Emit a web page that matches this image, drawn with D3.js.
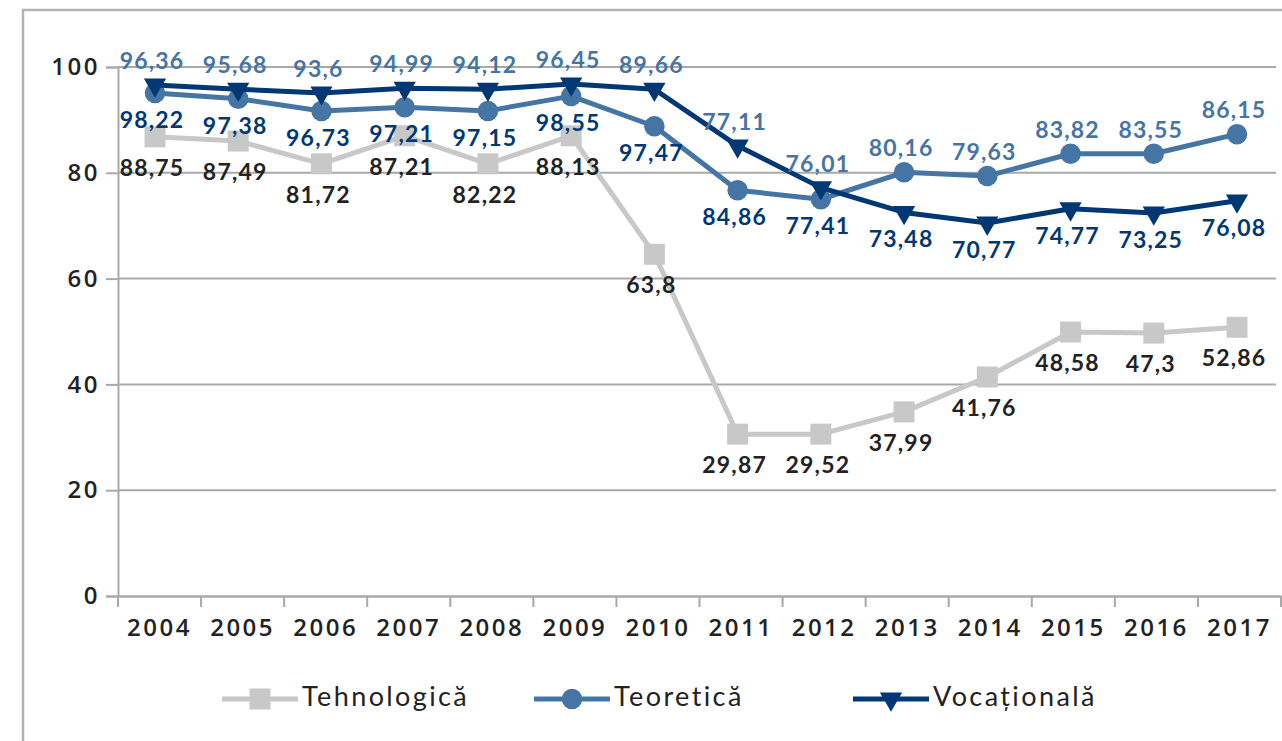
<!DOCTYPE html>
<html>
<head>
<meta charset="utf-8">
<script src="https://cdn.jsdelivr.net/npm/d3@7"></script>
<style>
  body { margin: 0; background: #fff; }
  svg { display: block; font-family: Lato, "Open Sans", sans-serif; }
</style>
</head>
<body>
<div id="chart"></div>
<script>
// data
var years = ["2004","2005","2006","2007","2008","2009","2010","2011","2012","2013","2014","2015","2016","2017"];
var yTicks = [0, 20, 40, 60, 80, 100];

var tehnValues = [86.8, 86.0, 81.7, 87.0, 81.7, 87.0, 64.6, 30.6, 30.6, 34.8, 41.4, 49.9, 49.7, 50.8];
var teorValues = [95.1, 94.0, 91.7, 92.4, 91.7, 94.5, 88.8, 76.7, 75.0, 80.1, 79.4, 83.6, 83.6, 87.3];
var vocValues  = [96.6, 95.8, 95.1, 96.0, 95.8, 96.8, 95.8, 85.1, 77.2, 72.5, 70.5, 73.2, 72.4, 74.7];

var tehnLabels = ["88,75","87,49","81,72","87,21","82,22","88,13","63,8","29,87","29,52","37,99","41,76","48,58","47,3","52,86"];
var teorLabels = ["96,36","95,68","93,6","94,99","94,12","96,45","89,66","77,11","76,01","80,16","79,63","83,82","83,55","86,15"];
var vocLabels  = ["98,22","97,38","96,73","97,21","97,15","98,55","97,47","84,86","77,41","73,48","70,77","74,77","73,25","76,08"];

var seriesNames = ["Tehnologică", "Teoretică", "Vocațională"];

var colTehn = "#c8c8c8", colTeor = "#4575a5", colVoc = "#003876";
var gridCol = "#a9a9a9";

var W = 1282, H = 741;
var svg = d3.select("#chart").append("svg")
  .attr("width", W).attr("height", H);

// outer frame (only top and left are visible in the crop)
svg.append("path")
  .attr("d", "M23,741 L23,10 L1282,10")
  .attr("fill", "none").attr("stroke", "#b3b3b3").attr("stroke-width", 2.5);

// scales
var x = d3.scaleBand().domain(years).range([118, 1281]);
var xp = d3.scalePoint().domain(years).range([155, 1237]);
var y = d3.scaleLinear().domain([0, 100]).range([596, 67]);

// gridlines
svg.append("g").selectAll("line")
  .data(yTicks.filter(function(d){ return d > 0; }))
  .enter().append("line")
    .attr("x1", 118).attr("x2", 1276)
    .attr("y1", function(d){ return y(d); })
    .attr("y2", function(d){ return y(d); })
    .attr("stroke", gridCol).attr("stroke-width", 2);

// y axis
var yAxis = svg.append("g")
  .attr("transform", "translate(118,0)")
  .call(d3.axisLeft(y).tickValues(yTicks).tickSize(12).tickPadding(6));
yAxis.select(".domain").attr("stroke", gridCol).attr("stroke-width", 2);
yAxis.selectAll(".tick line").attr("stroke", gridCol).attr("stroke-width", 2);
yAxis.selectAll(".tick text")
  .attr("fill", "#222").style("font-family", "'Open Sans', Lato, sans-serif")
  .style("font-size", "24px").style("font-weight", 600)
  .style("letter-spacing", "2.5px");

// x axis: labels centred in bands, ticks on band edges
var xAxis = svg.append("g")
  .attr("transform", "translate(0,596)")
  .call(d3.axisBottom(x).tickSize(0).tickPadding(23).tickSizeOuter(0));
xAxis.select(".domain").attr("stroke", gridCol).attr("stroke-width", 2.5);
xAxis.selectAll(".tick text")
  .attr("fill", "#222").style("font-family", "'Open Sans', Lato, sans-serif")
  .style("font-size", "24px").style("font-weight", 600)
  .style("letter-spacing", "2.5px");
xAxis.selectAll(".edge")
  .data(years.concat(["end"]))
  .enter().append("line")
    .attr("class", "edge")
    .attr("x1", function(d, i){ return x.range()[0] + i * x.step(); })
    .attr("x2", function(d, i){ return x.range()[0] + i * x.step(); })
    .attr("y1", 0).attr("y2", 11)
    .attr("stroke", gridCol).attr("stroke-width", 2);

function pts(vals) {
  return vals.map(function(v, i){ return { year: years[i], v: v }; });
}
var line = d3.line()
  .x(function(d){ return xp(d.year); })
  .y(function(d){ return y(d.v); });

var sqSym = d3.symbol().type(d3.symbolSquare).size(441);
var ciSym = d3.symbol().type(d3.symbolCircle).size(330);
var trSym = d3.symbol().type(d3.symbolTriangle).size(215);

function drawSeries(vals, col, sym, rot) {
  var g = svg.append("g");
  g.append("path")
    .datum(pts(vals))
    .attr("d", line)
    .attr("fill", "none").attr("stroke", col).attr("stroke-width", 5)
    .attr("stroke-linejoin", "round");
  g.selectAll("path.mk")
    .data(pts(vals))
    .enter().append("path")
      .attr("class", "mk")
      .attr("d", sym)
      .attr("fill", col)
      .attr("transform", function(d){
        return "translate(" + xp(d.year) + "," + y(d.v) + ")" + (rot ? " rotate(180)" : "");
      });
}
drawSeries(tehnValues, colTehn, sqSym, false);
drawSeries(teorValues, colTeor, ciSym, false);
drawSeries(vocValues, colVoc, trSym, true);

// data labels
var lab = svg.append("g")
  .style("font-size", "23px").style("font-weight", 700)
  .style("letter-spacing", "1.2px")
  .attr("text-anchor", "middle");

lab.selectAll("text.tehn")
  .data(tehnLabels).enter().append("text")
    .attr("class", "tehn")
    .attr("x", function(d, i){ return xp(years[i]) - 3; })
    .attr("y", function(d, i){ return y(tehnValues[i]) + 31 + 8; })
    .attr("fill", "#222")
    .text(function(d){ return d; });

lab.selectAll("text.teor")
  .data(teorLabels).enter().append("text")
    .attr("class", "teor")
    .attr("x", function(d, i){ return xp(years[i]) - 3; })
    .attr("y", function(d, i){
      return Math.min(y(teorValues[i]), y(vocValues[i])) - 24 + 8;
    })
    .attr("fill", colTeor)
    .text(function(d){ return d; });

lab.selectAll("text.voc")
  .data(vocLabels).enter().append("text")
    .attr("class", "voc")
    .attr("x", function(d, i){ return xp(years[i]) - 3; })
    .attr("y", function(d, i){
      return Math.max(y(teorValues[i]), y(vocValues[i])) + 27 + 8;
    })
    .attr("fill", colVoc)
    .text(function(d){ return d; });

// legend
var legendX = [222, 534, 853];
var legend = svg.append("g").attr("transform", "translate(0,699)");
var legSyms = [sqSym, ciSym, trSym];
var legCols = [colTehn, colTeor, colVoc];
seriesNames.forEach(function(name, i) {
  var lx = legendX[i];
  legend.append("line")
    .attr("x1", lx).attr("x2", lx + 76).attr("y1", 0).attr("y2", 0)
    .attr("stroke", legCols[i]).attr("stroke-width", 5);
  legend.append("path")
    .attr("d", legSyms[i])
    .attr("fill", legCols[i])
    .attr("transform", "translate(" + (lx + 38) + ",0)" + (i == 2 ? " rotate(180)" : ""));
  legend.append("text")
    .attr("x", lx + 80).attr("y", 7)
    .attr("fill", "#222")
    .style("font-size", "27px")
    .style("letter-spacing", "2.4px")
    .text(name);
});
</script>
</body>
</html>
